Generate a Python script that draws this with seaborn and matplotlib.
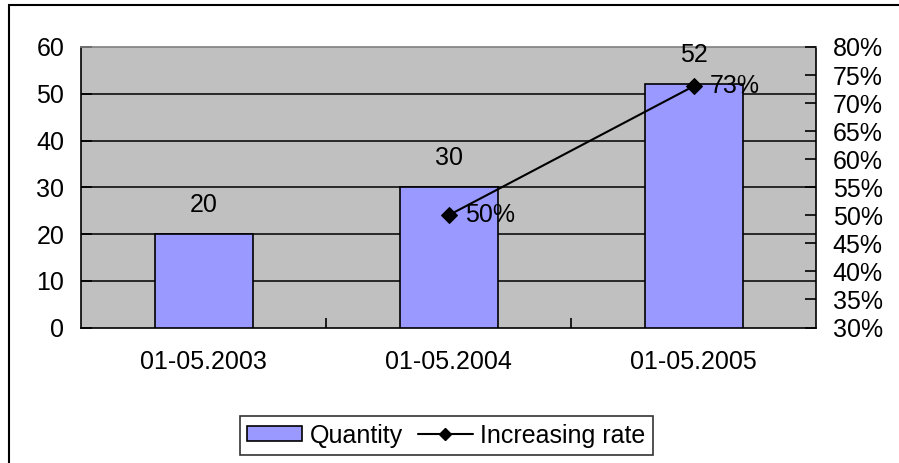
import matplotlib
matplotlib.use("Agg")
import matplotlib.pyplot as plt
from matplotlib.patches import Rectangle
from matplotlib.lines import Line2D
from matplotlib.patches import Patch
import matplotlib.ticker as mticker
import seaborn as sns
import pandas as pd

# Data
dates = ["01-05.2003", "01-05.2004", "01-05.2005"]
quantity = [20, 30, 52]
rate_dates = ["01-05.2004", "01-05.2005"]
increasing_rate = [50, 73]

sns.set_theme(style="white")
plt.rcParams["font.family"] = ["Liberation Sans", "DejaVu Sans"]
plt.rcParams["text.color"] = "black"
plt.rcParams["xtick.color"] = "black"
plt.rcParams["ytick.color"] = "black"
plt.rcParams["xtick.labelcolor"] = "black"
plt.rcParams["ytick.labelcolor"] = "black"
FS = 18

fig = plt.figure(figsize=(8.99, 4.63), dpi=100)
ax = fig.add_axes([81 / 899, 1 - 327.5 / 463, (816 - 81) / 899, (327.5 - 47) / 463])
ax.set_facecolor("#C0C0C0")

df = pd.DataFrame({"date": dates, "quantity": quantity})
sns.barplot(data=df, x="date", y="quantity", ax=ax, color="#9999FF",
            saturation=1, width=0.4, edgecolor="black", linewidth=1.2, zorder=3)

ax.set_xlim(-0.5, 2.5)
ax.set_ylim(0, 60)
ax.set_yticks(range(0, 61, 10))
ax.set_xlabel("")
ax.set_ylabel("")
for y in range(10, 60, 10):
    ax.axhline(y, color="black", lw=1.1, zorder=1)

for s in ["left", "bottom", "right"]:
    ax.spines[s].set_color("black")
    ax.spines[s].set_linewidth(1.2)
ax.spines["top"].set_color("#808080")
ax.spines["top"].set_linewidth(1.2)

ax.tick_params(axis="y", direction="in", length=8, width=1.2, color="black",
               labelsize=FS, pad=12, left=True, labelcolor="black")
ax.tick_params(axis="x", which="major", length=0, labelsize=FS, pad=16,
               labelcolor="black")
ax.xaxis.set_minor_locator(mticker.FixedLocator([0.5, 1.5]))
ax.tick_params(axis="x", which="minor", direction="in", length=7, width=1.2,
               color="black", bottom=True)

# bar value labels
for i, v in enumerate(quantity):
    ax.annotate(str(v), (i, v), xytext=(0, 21), textcoords="offset points",
                ha="center", va="center", fontsize=FS, color="black", zorder=5)

# secondary axis for the rate
ax2 = ax.twinx()
pos = [dates.index(d) for d in rate_dates]
rdf = pd.DataFrame({"x": pos, "rate": increasing_rate})
sns.lineplot(data=rdf, x="x", y="rate", ax=ax2, color="black", lw=1.5,
             marker="D", markersize=8, markeredgecolor="black", zorder=4)
ax2.set_ylim(30, 80)
ax2.set_yticks(range(30, 81, 5))
ax2.yaxis.set_major_formatter(mticker.FuncFormatter(lambda v, p: f"{int(v)}%"))
ax2.set_xlim(-0.5, 2.5)
ax2.set_ylabel("")
ax2.tick_params(axis="y", direction="in", length=8, width=1.2, color="black",
                labelsize=FS, pad=12, right=True, labelcolor="black")
for s in ax2.spines.values():
    s.set_visible(False)

for x, r in zip(pos, increasing_rate):
    ax2.annotate(f"{r}%", (x, r), xytext=(12, 0), textcoords="offset points",
                 ha="left", va="center", fontsize=FS, color="black", zorder=5)

# legend
handles = [
    Patch(facecolor="#9999FF", edgecolor="black", linewidth=1.2, label="Quantity"),
    Line2D([0], [0], color="black", lw=1.5, marker="D", markersize=6,
           label="Increasing rate"),
]
leg = fig.legend(handles=handles, loc="center", bbox_to_anchor=(446.5 / 899, 27.5 / 463),
                 ncol=2, fontsize=FS, frameon=True, fancybox=False, edgecolor="black",
                 handlelength=2.2, handleheight=0.55, handletextpad=0.3,
                 columnspacing=0.6, borderpad=0.3, borderaxespad=0)
leg.get_frame().set_linewidth(1.2)
for t in leg.get_texts():
    t.set_color("black")

# chart border
fig.add_artist(Rectangle((9 / 899, -0.1), 1.2, 1 - 5 / 463 + 0.1,
                         transform=fig.transFigure, fill=False, lw=1.5,
                         edgecolor="black"))

fig.savefig("out.png", dpi=100)
